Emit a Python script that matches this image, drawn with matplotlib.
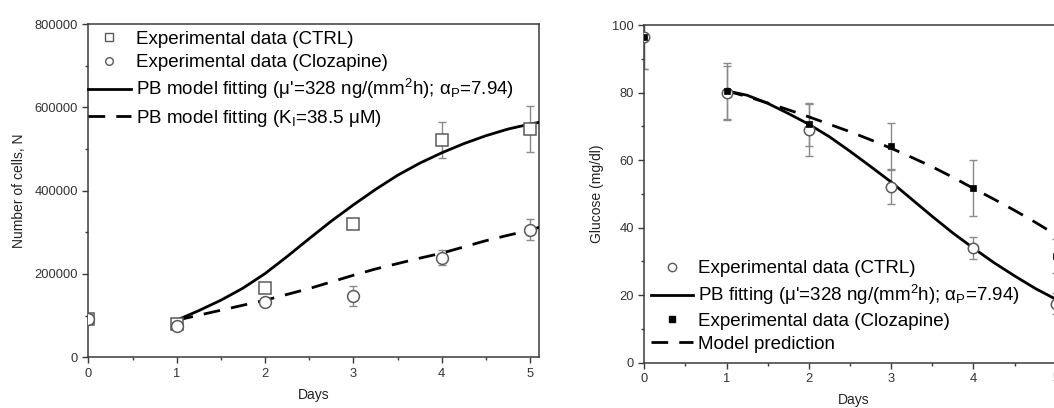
import matplotlib
matplotlib.use('Agg')
import matplotlib.pyplot as plt
from matplotlib.lines import Line2D
from matplotlib.ticker import MultipleLocator

plt.rcParams['font.family'] = ['Liberation Sans', 'DejaVu Sans']
plt.rcParams['mathtext.fontset'] = 'custom'
plt.rcParams['mathtext.rm'] = 'Liberation Sans'
plt.rcParams['mathtext.it'] = 'Liberation Sans:italic'
plt.rcParams['mathtext.bf'] = 'Liberation Sans:bold'

# ---------------- data: left panel (cell number) ----------------
days = [0, 1, 2, 3, 4, 5]
cells_ctrl = [92000, 80000, 167000, 321000, 521000, 549000]
cells_ctrl_err = [8000, 8000, 9000, 9000, 43000, 55000]
cells_clz = [92000, 76000, 133000, 146000, 239000, 306000]
cells_clz_err = [8000, 8000, 8000, 24000, 18000, 25000]

fit_days = [1, 1.25, 1.5, 1.75, 2, 2.25, 2.5, 2.75, 3, 3.25, 3.5, 3.75,
            4, 4.25, 4.5, 4.75, 5, 5.1]
cells_ctrl_fit = [89000, 112000, 137000, 166000, 201000, 242000, 285000, 327000,
                  366000, 403000, 437000, 466000, 491000, 513000, 532000, 548000,
                  560000, 564000]
cells_clz_fit = [89000, 101000, 113000, 125000, 137000, 151000, 165000, 181000,
                 197000, 212000, 225000, 238000, 250000, 265000, 280000, 293000,
                 305000, 312000]

# ---------------- data: right panel (glucose) ----------------
glu_ctrl = [96.5, 80, 69, 52, 34, 17.5]
glu_ctrl_err = [9.5, 8, 7.7, 5, 3.3, 3]
glu_clz = [96.5, 80.5, 70.6, 64.2, 51.6, 31.6]
glu_clz_err = [9.5, 8.3, 6.3, 6.8, 8.3, 5]

glu_ctrl_fit = [80.5, 79.2, 76.8, 73.8, 70.6, 66.9, 62.6, 58.1, 53.5, 48.4,
                43.3, 38.4, 33.9, 29.6, 25.7, 22.0, 18.8, 17.7]
glu_clz_pred = [80.5, 78.8, 76.9, 74.9, 72.8, 70.6, 68.4, 66.0, 63.5, 60.8,
                58.0, 54.9, 51.6, 48.4, 45.1, 41.6, 37.9, 36.5]

left_labels = ['Experimental data (CTRL)',
               'Experimental data (Clozapine)',
               "PB model fitting (μ'=328 ng/(mm$^2$h); α$_\\mathrm{P}$=7.94)",
               'PB model fitting (K$_\\mathrm{I}$=38.5 μM)']
right_labels = ['Experimental data (CTRL)',
                "PB fitting (μ'=328 ng/(mm$^2$h); α$_\\mathrm{P}$=7.94)",
                'Experimental data (Clozapine)',
                'Model prediction']

GREY = '#8a8a8a'
MEC = '#5a5a5a'
DASH = (6, 4)

fig = plt.figure(figsize=(10.54, 4.08), dpi=100)
ax1 = fig.add_axes([0.0838, 0.1243, 0.4276, 0.8167])
ax2 = fig.add_axes([0.6113, 0.111, 0.3982, 0.8277])


def style_axes(ax):
    for s in ax.spines.values():
        s.set_color('#3a3a3a')
        s.set_linewidth(1.1)
    ax.tick_params(which='both', direction='out', top=False, right=False,
                   colors='#3a3a3a', labelcolor='#333333', labelsize=9.3)
    ax.tick_params(which='major', length=4, width=1)
    ax.tick_params(which='minor', length=2.5, width=1)
    ax.set_xlabel('Days', fontsize=10, color='#222222', labelpad=6)


# ---- left panel ----
ax1.errorbar(days, cells_ctrl, yerr=cells_ctrl_err, fmt='none', ecolor=GREY,
             elinewidth=1, capsize=3, capthick=1, zorder=2)
ax1.errorbar(days, cells_clz, yerr=cells_clz_err, fmt='none', ecolor=GREY,
             elinewidth=1, capsize=3, capthick=1, zorder=2)
ax1.plot(fit_days, cells_ctrl_fit, color='black', lw=2, zorder=3)
ax1.plot(fit_days, cells_clz_fit, color='black', lw=2, dashes=DASH, zorder=3)
ax1.plot(days, cells_ctrl, ls='none', marker='s', ms=8.5, mfc='white',
         mec=MEC, mew=1.1, zorder=4)
ax1.plot(days, cells_clz, ls='none', marker='o', ms=8.5, mfc='white',
         mec=MEC, mew=1.1, zorder=4)
ax1.set_xlim(0, 5.1)
ax1.set_ylim(0, 800000)
ax1.xaxis.set_major_locator(MultipleLocator(1))
ax1.xaxis.set_minor_locator(MultipleLocator(0.5))
ax1.yaxis.set_major_locator(MultipleLocator(200000))
ax1.yaxis.set_minor_locator(MultipleLocator(100000))
ax1.ticklabel_format(axis='y', style='plain', useOffset=False)
style_axes(ax1)
ax1.set_ylabel('Number of cells, N', fontsize=10, color='#222222', labelpad=6)

h1 = [Line2D([], [], ls='none', marker='s', ms=5.5, mfc='white', mec=MEC, mew=1),
      Line2D([], [], ls='none', marker='o', ms=5.5, mfc='white', mec=MEC, mew=1),
      Line2D([], [], color='black', lw=2),
      Line2D([], [], color='black', lw=2, dashes=DASH)]
ax1.legend(h1, left_labels, loc='upper left', bbox_to_anchor=(0.0, 0.98),
           frameon=False, fontsize=13.5, handlelength=2.25, handletextpad=0.3,
           labelspacing=0.33, borderpad=0, borderaxespad=0)

# ---- right panel ----
ax2.errorbar(days, glu_ctrl, yerr=glu_ctrl_err, fmt='none', ecolor=GREY,
             elinewidth=1, capsize=3, capthick=1, zorder=2)
ax2.errorbar(days, glu_clz, yerr=glu_clz_err, fmt='none', ecolor=GREY,
             elinewidth=1, capsize=3, capthick=1, zorder=2)
ax2.plot(fit_days, glu_ctrl_fit, color='black', lw=2, zorder=3)
ax2.plot(fit_days, glu_clz_pred, color='black', lw=2, dashes=DASH, zorder=3)
ax2.plot(days, glu_ctrl, ls='none', marker='o', ms=7.5, mfc='white',
         mec=MEC, mew=1.1, zorder=4)
ax2.plot(days, glu_clz, ls='none', marker='s', ms=5, mfc='black',
         mec='black', mew=0.5, zorder=5)
ax2.set_xlim(0, 5.1)
ax2.set_ylim(0, 100)
ax2.xaxis.set_major_locator(MultipleLocator(1))
ax2.xaxis.set_minor_locator(MultipleLocator(0.5))
ax2.yaxis.set_major_locator(MultipleLocator(20))
ax2.yaxis.set_minor_locator(MultipleLocator(10))
style_axes(ax2)
ax2.set_ylabel('Glucose (mg/dl)', fontsize=10, color='#222222', labelpad=6)

h2 = [Line2D([], [], ls='none', marker='o', ms=6, mfc='white', mec=MEC, mew=1),
      Line2D([], [], color='black', lw=2),
      Line2D([], [], ls='none', marker='s', ms=4.5, mfc='black', mec='black'),
      Line2D([], [], color='black', lw=2, dashes=DASH)]
ax2.legend(h2, right_labels, loc='lower left', bbox_to_anchor=(0.015, 0.03),
           frameon=False, fontsize=13.5, handlelength=2.25, handletextpad=0.3,
           labelspacing=0.3, borderpad=0, borderaxespad=0)

fig.savefig('out.png', dpi=100)
